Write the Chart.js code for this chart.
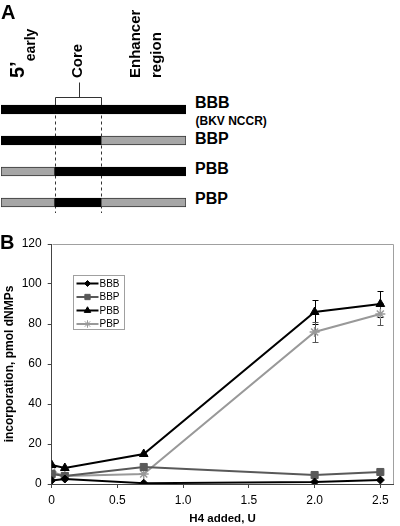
<!DOCTYPE html>
<html>
<head>
<meta charset="utf-8">
<script src="https://cdn.jsdelivr.net/npm/chart.js@4.4.0/dist/chart.umd.min.js"></script>
<style>
  body { margin: 0; background: #fff; }
  #wrap { position: relative; width: 400px; height: 526px; overflow: hidden; font-family: "Liberation Sans", Arial, sans-serif; color: #000; }
  canvas, .lbl { position: absolute; }
  .lbl { white-space: nowrap; font-weight: bold; line-height: 1; }
  .rot { transform-origin: 0 0; transform: rotate(-90deg); }
</style>
</head>
<body>
<div id="wrap">
  <canvas id="diagram" width="188" height="218" style="left:0;top:0;width:188px;height:218px"></canvas>
  <canvas id="chart-b" width="400" height="300" style="left:0;top:226px;width:400px;height:300px"></canvas>

  <div class="lbl" style="left:1px;top:2.4px;font-size:20px">A</div>
  <div class="lbl rot" style="left:7px;top:77.5px;font-size:20px">5’<span style="font-size:14px;vertical-align:-11px">early</span></div>
  <div class="lbl rot" style="left:68.7px;top:78px;font-size:15px">Core</div>
  <div class="lbl rot" style="left:124px;top:78px;font-size:15px;line-height:21px">Enhancer<br>region</div>
  <div class="lbl" style="left:195px;top:94.9px;font-size:16px">BBB</div>
  <div class="lbl" style="left:195.5px;top:114.8px;font-size:12px">(BKV NCCR)</div>
  <div class="lbl" style="left:195px;top:131.4px;font-size:16px">BBP</div>
  <div class="lbl" style="left:195px;top:161.2px;font-size:16px">PBB</div>
  <div class="lbl" style="left:195px;top:191.2px;font-size:16px">PBP</div>
  <div class="lbl" style="left:0;top:232.4px;font-size:20px">B</div>
</div>

<script>
// ---------------------------- data ----------------------------
// panel A : constructs and region lengths (% of the NCCR)
const constructs = ['BBB', 'BBP', 'PBB', 'PBP'];
const regions = ['5\' early', 'Core', 'Enhancer'];
const regionLengths = [29, 25, 46];

// panel B : incorporation vs H4 added
const xValues = [0, 0.1, 0.7, 2, 2.5];
const seriesNames = ['BBB', 'BBP', 'PBB', 'PBP'];
const bbb = [1.8, 2.5, 0.4, 1, 2];
const bbp = [5, 4, 8.5, 4.5, 6];
const pbb = [9.5, 8, 15, 86, 90];
const pbp = [6, 4, 5, 76, 85];
const pbbErr = [0, 0, 0, 6, 6.5];
const pbpErr = [0, 0, 0, 5, 5.5];
const xTicks = [0, 0.5, 1, 1.5, 2, 2.5];
const yTicks = [0, 20, 40, 60, 80, 100, 120];

Chart.defaults.font.family = '"Liberation Sans", Arial, sans-serif';
Chart.defaults.color = '#000';

// ---------------------------- panel A ----------------------------
const black = '#000';
const grey = '#a6a6a6';

// dashed lines + core bracket
const diagramLines = {
  id: 'diagramLines',
  beforeDatasetsDraw(chart) {
    const ctx = chart.ctx;
    const x = chart.scales.x, y = chart.scales.y;
    const x1 = Math.round(x.getPixelForValue(regionLengths[0])) + 0.5;
    const x2 = Math.round(x.getPixelForValue(regionLengths[0] + regionLengths[1])) + 0.5;
    const first = y.getPixelForValue(0);
    const last = y.getPixelForValue(constructs.length - 1);
    const barTop = first - 4.5;

    ctx.save();
    ctx.strokeStyle = '#333';
    ctx.lineWidth = 1;
    ctx.setLineDash([3, 3]);
    [x1, x2].forEach(function (xx) {
      ctx.beginPath();
      ctx.moveTo(xx, first);
      ctx.lineTo(xx, last + 10.5);
      ctx.stroke();
    });
    ctx.setLineDash([]);

    const by = Math.round(barTop - 8) + 0.5;
    ctx.beginPath();
    ctx.moveTo(x1, barTop);
    ctx.lineTo(x1, by);
    ctx.lineTo(x2, by);
    ctx.lineTo(x2, barTop);
    ctx.stroke();
    const mid = Math.round((x1 + x2) / 2) + 0.5;
    ctx.beginPath();
    ctx.moveTo(mid, by);
    ctx.lineTo(mid, by - 15);
    ctx.stroke();
    ctx.restore();
  }
};

new Chart(document.getElementById('diagram'), {
  type: 'bar',
  data: {
    labels: constructs,
    datasets: regions.map(function (name, r) {
      return {
        label: name,
        data: constructs.map(function () { return regionLengths[r]; }),
        backgroundColor: constructs.map(function (c) { return c[r] === 'B' ? black : grey; }),
        borderColor: constructs.map(function (c) { return c[r] === 'B' ? black : '#333'; }),
        borderWidth: 1,
        borderSkipped: false,
        barThickness: 9
      };
    })
  },
  options: {
    indexAxis: 'y',
    responsive: false,
    animation: false,
    events: [],
    layout: { padding: { top: 94, left: 1, right: 2, bottom: 0 } },
    plugins: { legend: { display: false }, tooltip: { enabled: false } },
    scales: {
      x: { display: false, stacked: true, min: 0, max: 100 },
      y: { display: false, stacked: true }
    }
  },
  plugins: [diagramLines]
});

// ---------------------------- panel B ----------------------------
function points(vals) {
  return xValues.map(function (x, i) { return { x: x, y: vals[i] }; });
}

const errorBars = {
  id: 'errorBars',
  beforeDatasetsDraw(chart) {
    const ctx = chart.ctx;
    const x = chart.scales.x, y = chart.scales.y;
    ctx.save();
    ctx.lineWidth = 1;
    chart.data.datasets.forEach(function (ds) {
      if (!ds.errors) return;
      ctx.strokeStyle = ds.errorColor;
      ds.data.forEach(function (p, i) {
        const e = ds.errors[i];
        if (!e) return;
        const px = Math.round(x.getPixelForValue(p.x)) + 0.5;
        const y1 = Math.round(y.getPixelForValue(p.y + e)) + 0.5;
        const y2 = Math.round(y.getPixelForValue(p.y - e)) + 0.5;
        ctx.beginPath();
        ctx.moveTo(px, y1); ctx.lineTo(px, y2);
        ctx.moveTo(px - 3, y1); ctx.lineTo(px + 3, y1);
        ctx.moveTo(px - 3, y2); ctx.lineTo(px + 3, y2);
        ctx.stroke();
      });
    });
    ctx.restore();
  }
};

// grey top / right border of the plot area
const plotFrame = {
  id: 'plotFrame',
  afterDraw(chart) {
    const a = chart.chartArea, ctx = chart.ctx;
    const l = Math.round(a.left) + 0.5, t = Math.round(a.top) + 0.5;
    const r = Math.round(a.right) - 0.5, b = Math.round(a.bottom);
    ctx.save();
    ctx.strokeStyle = '#a0a0a0';
    ctx.lineWidth = 1;
    ctx.beginPath();
    ctx.moveTo(l, t); ctx.lineTo(r, t); ctx.lineTo(r, b);
    ctx.stroke();
    ctx.restore();
  }
};

// boxed legend inside the plot
const boxLegend = {
  id: 'boxLegend',
  afterDraw(chart) {
    const a = chart.chartArea, ctx = chart.ctx;
    const left = Math.round(a.left + 21) + 0.5, top = Math.round(a.top + 31) + 0.5;
    ctx.save();
    ctx.fillStyle = '#fff';
    ctx.strokeStyle = '#a0a0a0';
    ctx.lineWidth = 1;
    ctx.fillRect(left, top, 51, 54);
    ctx.strokeRect(left, top, 51, 54);
    ctx.font = '10px "Liberation Sans", Arial, sans-serif';
    ctx.textBaseline = 'middle';
    chart.data.datasets.forEach(function (ds, i) {
      const cy = top + 8 + i * 13.5;
      ctx.strokeStyle = ds.borderColor;
      ctx.lineWidth = 2;
      ctx.beginPath();
      ctx.moveTo(left + 3, cy); ctx.lineTo(left + 25, cy);
      ctx.stroke();
      ctx.fillStyle = ds.pointBackgroundColor;
      ctx.strokeStyle = ds.pointBorderColor;
      ctx.lineWidth = 1;
      if (Chart.helpers && Chart.helpers.drawPoint) {
        Chart.helpers.drawPoint(ctx, { pointStyle: ds.pointStyle, radius: ds.pointRadius * 0.75, borderWidth: 1, rotation: 0 }, left + 14, cy);
      }
      ctx.fillStyle = '#000';
      ctx.fillText(ds.label, left + 26, cy + 0.5);
    });
    ctx.restore();
  }
};

const styles = [
  { color: '#000', point: 'rectRot', radius: 4 },
  { color: '#595959', point: 'rect', radius: 5 },
  { color: '#000', point: 'triangle', radius: 5 },
  { color: '#999', point: 'star', radius: 5 }
];
const values = [bbb, bbp, pbb, pbp];
const errors = [null, null, pbbErr, pbpErr];
const errorColors = [null, null, '#000', '#555'];

new Chart(document.getElementById('chart-b'), {
  type: 'scatter',
  data: {
    datasets: seriesNames.map(function (name, i) {
      return {
        label: name,
        data: points(values[i]),
        showLine: true,
        tension: 0,
        borderColor: styles[i].color,
        borderWidth: 2,
        pointStyle: styles[i].point,
        pointRadius: styles[i].radius,
        pointBackgroundColor: styles[i].color,
        pointBorderColor: styles[i].color,
        pointBorderWidth: styles[i].point === 'star' ? 1.5 : 1,
        errors: errors[i],
        errorColor: errorColors[i]
      };
    })
  },
  options: {
    responsive: false,
    animation: false,
    events: [],
    layout: { padding: { top: 18, right: 0.5, left: 0, bottom: 0 } },
    plugins: { legend: { display: false }, tooltip: { enabled: false } },
    scales: {
      x: {
        type: 'linear',
        min: 0,
        max: 2.6,
        afterBuildTicks: function (s) { s.ticks = xTicks.map(function (v) { return { value: v }; }); },
        afterFit: function (s) { s.height = 42; },
        grid: { drawOnChartArea: false, tickLength: 4, color: '#444' },
        border: { color: '#444' },
        ticks: { font: { size: 12 }, padding: 5, maxRotation: 0, autoSkip: false },
        title: { display: true, text: 'H4 added, U', font: { size: 11.5, weight: 'bold' }, padding: { top: 0, bottom: 0 } }
      },
      y: {
        min: 0,
        max: 120,
        afterBuildTicks: function (s) { s.ticks = yTicks.map(function (v) { return { value: v }; }); },
        afterFit: function (s) { s.width = 51.7; },
        grid: { drawOnChartArea: false, tickLength: 4, color: '#444' },
        border: { color: '#444' },
        ticks: { font: { size: 12 }, padding: 6 },
        title: { display: true, text: 'incorporation, pmol dNMPs', font: { size: 12, weight: 'bold' }, padding: { top: 2, bottom: 0 } }
      }
    }
  },
  plugins: [errorBars, plotFrame, boxLegend]
});
</script>
</body>
</html>
